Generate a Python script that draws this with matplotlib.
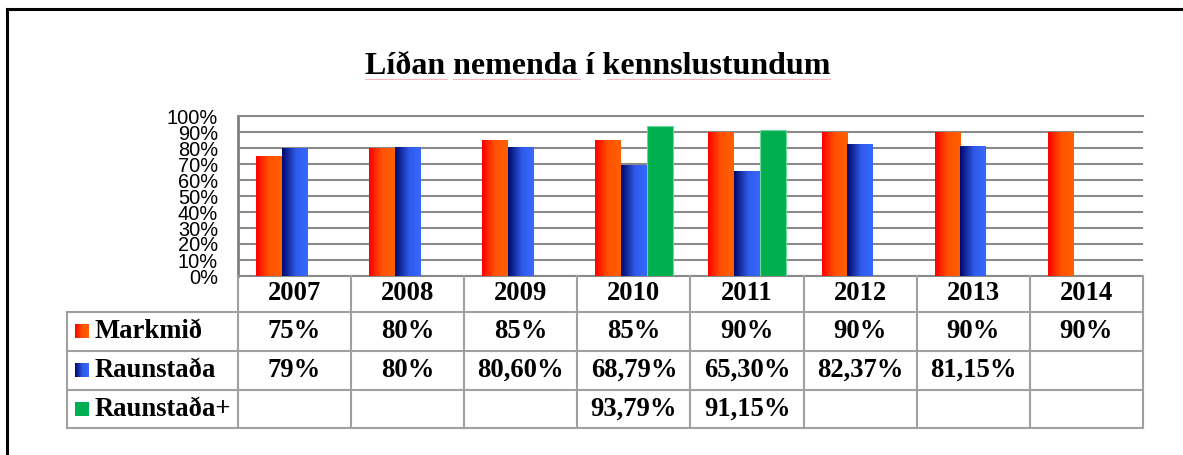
import matplotlib
matplotlib.use("Agg")
import matplotlib.pyplot as plt
import numpy as np
from matplotlib.colors import LinearSegmentedColormap
from matplotlib.lines import Line2D
from matplotlib.patches import Rectangle

YEARS = ["2007", "2008", "2009", "2010", "2011", "2012", "2013", "2014"]
SERIES = ["Markmið", "Raunstaða", "Raunstaða+"]
MARKMID = [75, 80, 85, 85, 90, 90, 90, 90]
RAUNSTADA = [79.5, 80.4, 80.6, 68.79, 65.3, 82.37, 81.15, np.nan]
RAUNSTADA_PLUS = [np.nan, np.nan, np.nan, 93.79, 91.15, np.nan, np.nan, np.nan]
MARKMID_LABELS = ["75%", "80%", "85%", "85%", "90%", "90%", "90%", "90%"]
RAUNSTADA_LABELS = ["79%", "80%", "80,60%", "68,79%", "65,30%", "82,37%", "81,15%", ""]
PLUS_LABELS = ["", "", "", "93,79%", "91,15%", "", "", ""]

W, H = 1183, 455
SERIF = "Liberation Serif"
SANS = "Liberation Sans"
GRID = "#8a8a8a"
TABLE_LINE = "#a0a0a0"
GREEN = "#00B050"

red_cmap = LinearSegmentedColormap.from_list(
    "red_grad", [(0, "#FF0000"), (0.5, "#FF5200"), (1, "#FF6000")])
blue_cmap = LinearSegmentedColormap.from_list(
    "blue_grad", [(0, "#00096B"), (0.55, "#2F5BEA"), (1, "#3768FF")])


def fx(px):
    return px / W


def fy(py):
    return 1 - py / H


fig = plt.figure(figsize=(W / 100, H / 100), dpi=100)
fig.patch.set_facecolor("white")

# plot area
left, right, top, bottom = 238, 1143, 116, 276
ax = fig.add_axes([fx(left), fy(bottom), fx(right) - fx(left), fy(top) - fy(bottom)])

x = np.arange(len(YEARS))
bw = 0.2275
grad = np.linspace(0, 1, 64).reshape(1, -1)


def gradient_bars(bars, cmap):
    for b in bars:
        h = b.get_height()
        if not np.isfinite(h):
            continue
        b.set_facecolor("none")
        b.set_edgecolor("none")
        ax.imshow(grad, cmap=cmap, aspect="auto", interpolation="bilinear",
                  extent=[b.get_x(), b.get_x() + b.get_width(), 0, h], zorder=3)


red_bars = ax.bar(x - bw, MARKMID, bw, zorder=3)
blue_bars = ax.bar(x, RAUNSTADA, bw, zorder=3)
ax.bar(x + bw, RAUNSTADA_PLUS, bw, color=GREEN, edgecolor="#6fd79c", linewidth=0.8, zorder=3)
gradient_bars(red_bars, red_cmap)
gradient_bars(blue_bars, blue_cmap)

ax.set_xlim(-0.5, len(YEARS) - 0.5)
ax.set_ylim(0, 100)
ax.set_yticks(range(0, 101, 10))
ax.set_yticklabels([f"{v}%" for v in range(0, 101, 10)], fontfamily=SANS, fontsize=14.4)
ax.set_xticks([])
ax.tick_params(axis="y", length=0, pad=14.4)
ax.yaxis.grid(True, color=GRID, linewidth=1.5)
ax.set_axisbelow(True)
ax.spines["left"].set_color("#7f7f7f")
ax.spines["left"].set_linewidth(2)
ax.spines["bottom"].set_color(GRID)
ax.spines["bottom"].set_linewidth(1.5)
ax.spines["top"].set_color(GRID)
ax.spines["top"].set_linewidth(1.5)
ax.spines["right"].set_visible(False)

# data table drawn in pixel coordinates on an overlay
tab = fig.add_axes([0, 0, 1, 1])
tab.set_xlim(0, W)
tab.set_ylim(H, 0)
tab.axis("off")
tab.patch.set_alpha(0)

label_left = 67
col_w = (right - left) / len(YEARS)
row_edges = [276, 312, 351, 390, 428]

for y in row_edges[1:]:
    tab.plot([label_left, right], [y, y], color=TABLE_LINE, lw=1.5)
for i in range(len(YEARS) + 1):
    cx = left + i * col_w
    tab.plot([cx, cx], [row_edges[0], row_edges[-1]], color=TABLE_LINE, lw=1.5)
tab.plot([label_left, label_left], [row_edges[1], row_edges[-1]], color=TABLE_LINE, lw=1.5)

text_kw = dict(fontfamily=SERIF, fontweight="bold", fontsize=19.2, va="center")
for i, year in enumerate(YEARS):
    cx = left + (i + 0.5) * col_w
    tab.text(cx, (row_edges[0] + row_edges[1]) / 2, year, ha="center", **text_kw)

rows = [MARKMID_LABELS, RAUNSTADA_LABELS, PLUS_LABELS]
markers = [red_cmap, blue_cmap, None]
for r, (name, labels, cmap) in enumerate(zip(SERIES, rows, markers)):
    cy = (row_edges[r + 1] + row_edges[r + 2]) / 2
    if cmap is None:
        tab.add_patch(Rectangle((75, cy - 7), 14, 14, facecolor=GREEN, edgecolor="none"))
    else:
        tab.imshow(grad, cmap=cmap, aspect="auto", interpolation="bilinear",
                   extent=[75, 89, cy + 7, cy - 7])
    tab.text(95, cy, name, ha="left", **text_kw)
    for i, lab in enumerate(labels):
        cx = left + (i + 0.5) * col_w
        tab.text(cx, cy, lab, ha="center", **text_kw)

tab.set_xlim(0, W)
tab.set_ylim(H, 0)

# title with spell-check underline
fig.text(fx(598), fy(66), "Líðan nemenda í kennslustundum", ha="center", va="center",
         fontfamily=SERIF, fontweight="bold", fontsize=23)
for x0, x1 in [(365, 447), (453, 580), (607, 830)]:
    fig.add_artist(Line2D([fx(x0), fx(x1)], [fy(79), fy(79)], color="#ff6b6b",
                          lw=0.6, alpha=0.6))

# outer frame (left and top edges visible)
fig.add_artist(Line2D([fx(7), fx(7)], [fy(9), 0], color="black", lw=2.2))
fig.add_artist(Line2D([fx(7), 1], [fy(9), fy(9)], color="black", lw=2.2))

fig.savefig("out.png", dpi=100, facecolor="white")
